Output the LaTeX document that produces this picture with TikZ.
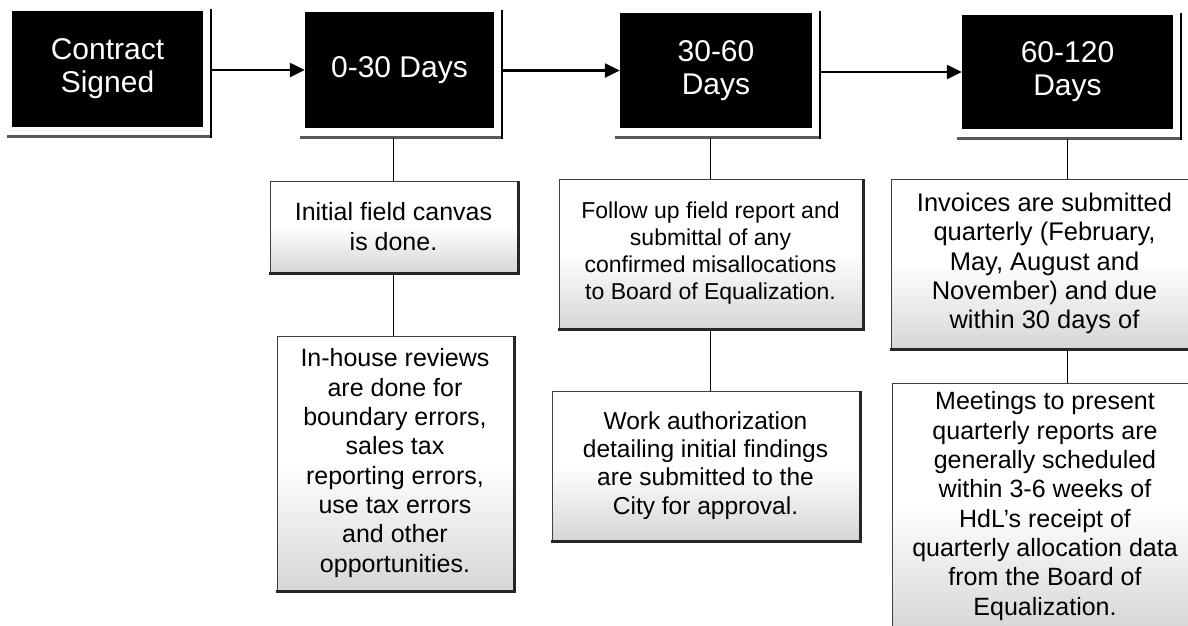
\documentclass[tikz,border=0pt]{standalone}
\usepackage{fontspec}
\setmainfont{Liberation Sans}
\usetikzlibrary{arrows.meta,calc}
\tikzset{
  blackbox/.style={fill=black, text=white, align=center, inner sep=0pt,
    font=\fontsize{30}{33}\selectfont},
  whitebox/.style={draw=black!75, line width=0.8pt, top color=white,
    bottom color=black!16, middle color=white, align=center, inner sep=0pt, text=black},
  shadowbot/.style={draw=black!65, line width=3pt},
  shadowright/.style={draw=black, line width=1.5pt},
  wshadow/.style={draw=black!85, line width=2.5pt},
  flowarrow/.style={draw=black, line width=2.4pt, -{Triangle[length=15pt,width=14pt]}},
  connector/.style={draw=black, line width=1.8pt},
  fntA/.style={font=\fontsize{25}{29.3}\selectfont},
  fntB/.style={font=\fontsize{23}{27}\selectfont},
  fntC/.style={font=\fontsize{24.5}{28.3}\selectfont},
  fntD/.style={font=\fontsize{25.5}{29.3}\selectfont},
}
\newcommand\blkshadow[1]{%
  \draw[shadowbot] ([xshift=-5pt,yshift=-9pt]#1.south west) -- ([xshift=8pt,yshift=-9pt]#1.south east);
  \draw[shadowright] ([xshift=8pt,yshift=-10.5pt]#1.south east) -- ([xshift=8pt,yshift=2pt]#1.north east);}
\newcommand\whtshadow[1]{%
  \draw[wshadow] ([xshift=-0.4pt,yshift=-1pt]#1.south west) -- ([xshift=1pt,yshift=-1pt]#1.south east) -- ([xshift=1pt]#1.north east);}
\begin{document}
\begin{tikzpicture}[x=1pt,y=-1pt]
\useasboundingbox (0,0) rectangle (1188,625);
\clip (0,0) rectangle (1188,625);
\fill[white] (0,0) rectangle (1188,625);

% black stage boxes
\node[blackbox, minimum width=191pt, minimum height=116pt] (cs) at (107.5,69) {Contract\\Signed};
\node[blackbox, minimum width=189pt, minimum height=116pt] (d1) at (399.5,70) {0-30 Days};
\node[blackbox, minimum width=192pt, minimum height=115pt] (d2) at (716,70.5) {30-60\\Days};
\node[blackbox, minimum width=211pt, minimum height=114pt] (d3) at (1067.5,72) {60-120\\Days};
\blkshadow{cs}
\blkshadow{d1}
\blkshadow{d2}
\blkshadow{d3}

% detail boxes
\node[whitebox, fntA, minimum width=247pt, minimum height=91pt] (ib) at (393.5,226.5)
  {Initial field canvas\\is done.};
\node[whitebox, fntA, minimum width=236pt, minimum height=254pt] (ih) at (395,463)
  {In-house reviews\\are done for\\boundary errors,\\sales tax\\reporting errors,\\use tax errors\\and other\\opportunities.};
\node[whitebox, fntB, minimum width=303pt, minimum height=149pt] (fu) at (710.5,253.5)
  {Follow up field report and\\submittal of any\\confirmed misallocations\\to Board of Equalization.};
\node[whitebox, fntC, minimum width=307pt, minimum height=149pt] (wa) at (705.5,465.5)
  {Work authorization\\detailing initial findings\\are submitted to the\\City for approval.};
\node[whitebox, fntD, minimum width=307pt, minimum height=169pt] (inv) at (1044.5,263.5)
  {Invoices are submitted\\quarterly (February,\\May, August and\\November) and due\\within 30 days of};
\node[whitebox, fntA, minimum width=306pt, minimum height=246pt] (mt) at (1045,506)
  {Meetings to present\\quarterly reports are\\generally scheduled\\within 3-6 weeks of\\HdL’s receipt of\\quarterly allocation data\\from the Board of\\Equalization.};
\whtshadow{ib}
\whtshadow{ih}
\whtshadow{fu}
\whtshadow{wa}
\whtshadow{inv}
\whtshadow{mt}

% arrows between stages
\draw[flowarrow] ([xshift=9pt]cs.east |- d1.west) -- (d1.west);
\draw[flowarrow] ([xshift=8pt]d1.east |- d2.west) -- (d2.west);
\draw[flowarrow] ([xshift=8pt]d2.east |- d3.west) -- (d3.west);

% vertical connectors
\draw[connector] ([yshift=-10pt]d1.south -| ib.north) -- (ib.north);
\draw[connector] ([yshift=-2pt]ib.south) -- (ib.south |- ih.north);
\draw[connector] ([yshift=-10pt]d2.south -| fu.north) -- (fu.north);
\draw[connector] ([yshift=-2pt]fu.south) -- (fu.south |- wa.north);
\draw[connector] ([yshift=-10pt]d3.south) -- (d3.south |- inv.north);
\draw[connector] ([yshift=-2pt]inv.south -| d3.south) -- (d3.south |- mt.north);
\end{tikzpicture}
\end{document}
